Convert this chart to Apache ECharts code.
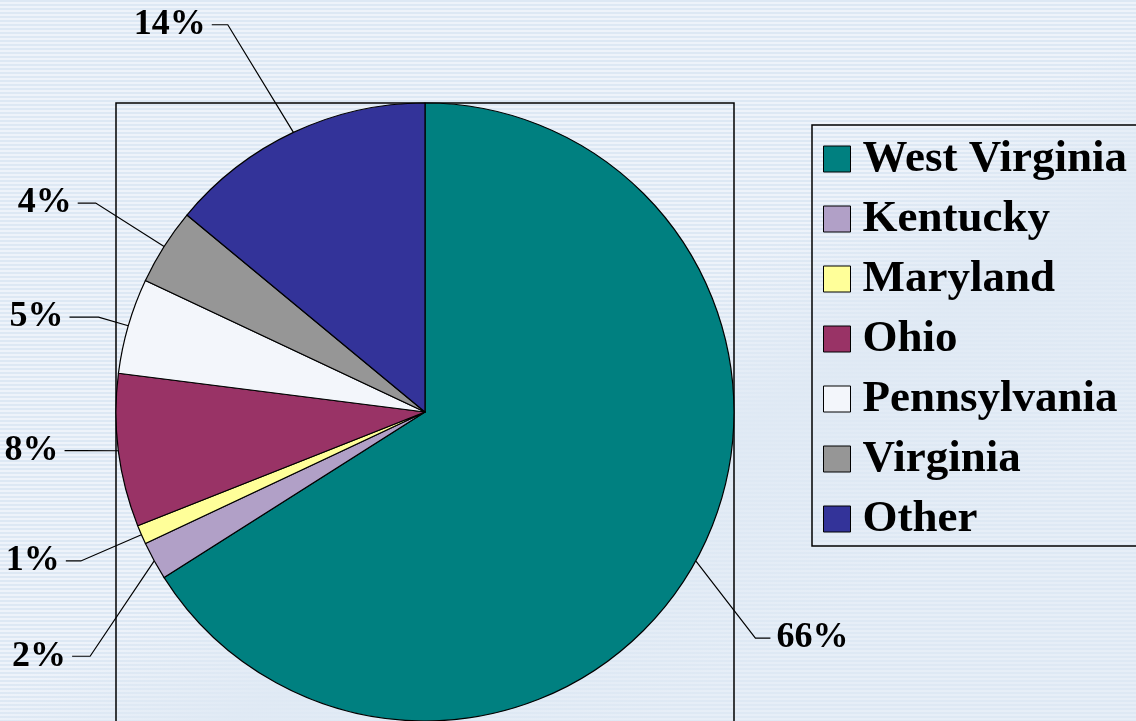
<!DOCTYPE html>
<html>
<head>
<meta charset="utf-8">
<script src="https://cdn.jsdelivr.net/npm/echarts@6/dist/echarts.min.js"></script>
<style>
html, body { margin: 0; padding: 0; }
body {
    width: 1136px; height: 721px; overflow: hidden;
    background-color: #e2ebf5;
    background-image:
        linear-gradient(150deg, rgba(226,235,245,0) 50%, rgba(223,233,244,0.9) 62%, rgba(223,233,244,0.5) 80%),
        repeating-linear-gradient(to bottom, #dde8f4 0px, #dde8f4 2px, #eef3fa 2px, #eef3fa 4px);
}
#chart { width: 1136px; height: 721px; }
</style>
</head>
<body>
<div id="chart"></div>
<script>
// share of total, by state
const states = ['West Virginia', 'Kentucky', 'Maryland', 'Ohio', 'Pennsylvania', 'Virginia', 'Other'];
const shares = [66, 2, 1, 8, 5, 4, 14];

// styling
const sliceColors = ['#008080', '#b1a0c7', '#ffff99', '#993366', '#f3f6fb', '#969696', '#333399'];
const leaderLen = [100, 88, 66, 15, 31, 81, 119];
const leaderLen2 = [15, 18, 15, 18, 29, 18, 16];
// nudge of the label (and the elbow of its leader) away from the radial spot
const labelShiftX = [-28, 13, 0, -21, 0, 0, -15];
const labelShiftY = [29, 53, 0, -2, 0, 0, 0];

const FONT = "'Liberation Serif', 'DejaVu Serif', serif";
const cx = 425, cy = 412, r = 309;

const pieData = states.map((name, i) => ({
    name: name,
    value: shares[i],
    itemStyle: { color: sliceColors[i] },
    labelLine: { length: leaderLen[i], length2: leaderLen2[i] }
}));

const chart = echarts.init(document.getElementById('chart'));
chart.setOption({
    animation: false,
    graphic: [{
        type: 'rect',
        z: 0,
        shape: { x: cx - r, y: cy - r, width: 2 * r, height: 2 * r + 20 },
        style: { fill: 'none', stroke: '#000', lineWidth: 1.5 }
    }],
    legend: {
        orient: 'vertical',
        left: 812,
        top: 125,
        data: states,
        icon: 'rect',
        itemWidth: 27,
        itemHeight: 26,
        itemGap: 12,
        padding: [10, 12, 3, 11],
        borderColor: '#000',
        borderWidth: 1.5,
        selectedMode: false,
        itemStyle: { borderColor: '#000', borderWidth: 1 },
        textStyle: {
            fontFamily: FONT, fontWeight: 'bold', fontSize: 45,
            lineHeight: 48, color: '#000', padding: [0, 0, 0, 7]
        }
    },
    series: [{
        type: 'pie',
        center: [cx, cy],
        radius: r,
        startAngle: 90,
        clockwise: true,
        avoidLabelOverlap: false,
        labelLayout: function (p) {
            const sx = labelShiftX[p.dataIndex], sy = labelShiftY[p.dataIndex];
            const pts = p.labelLinePoints;
            if (!pts || (!sx && !sy)) return { hideOverlap: false };
            return {
                hideOverlap: false,
                dx: sx,
                dy: sy,
                labelLinePoints: [
                    pts[0],
                    [pts[1][0] + sx, pts[1][1] + sy],
                    [pts[2][0] + sx, pts[2][1] + sy]
                ]
            };
        },
        itemStyle: { borderColor: '#000', borderWidth: 1.2 },
        label: {
            show: true,
            position: 'outside',
            formatter: '{c}%',
            fontFamily: FONT, fontWeight: 'bold', fontSize: 36, color: '#000',
            distanceToLabelLine: 6
        },
        labelLine: { show: true, lineStyle: { color: '#000', width: 1.2 } },
        emphasis: { disabled: true },
        data: pieData
    }]
});
</script>
</body>
</html>
